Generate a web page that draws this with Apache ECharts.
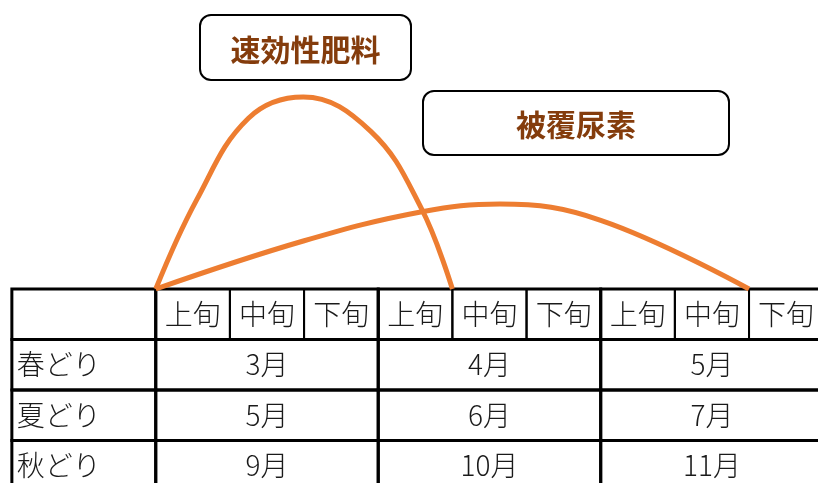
<!DOCTYPE html>
<html><head><meta charset="utf-8">
<script src="https://cdn.jsdelivr.net/npm/echarts@6/dist/echarts.min.js"></script>
<style>html,body{margin:0;padding:0;background:#fff}#c{width:818px;height:483px}</style>
</head><body><div id="c"></div>
<script>
// ---- data ----
const decades = ['上旬','中旬','下旬','上旬','中旬','下旬','上旬','中旬','下旬'];
const seasons = ['春どり','夏どり','秋どり'];
const monthsBySeason = [
  ['3月','4月','5月'],
  ['5月','6月','7月'],
  ['9月','10月','11月']
];
// release curves: [decade position, relative amount]
const fastRelease = [[0,0],[0.55,1.76],[1.25,3.38],[1.99,3.8],[2.9,3.12],[3.58,1.6],[4.0,0]];
const slowRelease = [[0,0],[1.99,0.95],[3.59,1.53],[4.64,1.68],[6.0,1.36],[8.0,0]];
const seriesNames = ['速効性肥料','被覆尿素'];

// ---- table cells built from arrays ----
const LABEL_START = -1.94;
const cells = [];
decades.forEach((d,i)=>cells.push([i, i+1, 0, -1, d, 'c', 2]));
for (let j=0;j<3;j++) cells.push([3*j, 3*j+3, 0, -1, '', 'c', 3]);
cells.push([LABEL_START, 0, 0, -1, '', 'l', 3]);
seasons.forEach((s,r)=>{
  cells.push([LABEL_START, 0, -1-r, -2-r, s, 'l', 3]);
  monthsBySeason[r].forEach((m,j)=>cells.push([3*j, 3*j+3, -1-r, -2-r, m, 'c', 3]));
});

const chart = echarts.init(document.getElementById('c'));
const FONT = '"Noto Sans CJK JP","Noto Sans CJK SC",sans-serif';
chart.setOption({
  animation:false,
  grid:{left:0,right:0,top:0,bottom:0},
  xAxis:{type:'value',min:-2.1,max:8.93,show:false},
  yAxis:{type:'value',min:-3.84,max:5.72,show:false},
  graphic:[
    {type:'group',left:199,top:14,children:[
      {type:'rect',shape:{x:0,y:0,width:211,height:65,r:11},style:{fill:'#fff',stroke:'#000',lineWidth:2}},
      {type:'text',style:{text:seriesNames[0],x:105.5,y:35,align:'center',verticalAlign:'middle',fill:'#843C0C',font:'bold 30px '+FONT}}
    ]},
    {type:'group',left:422,top:90,children:[
      {type:'rect',shape:{x:0,y:0,width:306,height:64,r:11},style:{fill:'#fff',stroke:'#000',lineWidth:2}},
      {type:'text',style:{text:seriesNames[1],x:153,y:34,align:'center',verticalAlign:'middle',fill:'#843C0C',font:'bold 30px '+FONT}}
    ]}
  ],
  series:[
    {type:'custom',data:cells,z:1,clip:false,
     renderItem:(params,api)=>{
       const c = cells[params.dataIndex];
       const p0 = api.coord([c[0],c[2]]), p1 = api.coord([c[1],c[3]]);
       const children=[{type:'rect',shape:{x:p0[0],y:p0[1],width:p1[0]-p0[0],height:p1[1]-p0[1]},
         style:{fill:'none',stroke:'#000',lineWidth:c[6]}}];
       if (c[4]) children.push({type:'text',style:{text:c[4],
         x: c[5]==='l' ? p0[0]+5 : (p0[0]+p1[0])/2, y:(p0[1]+p1[1])/2,
         align: c[5]==='l'?'left':'center', verticalAlign:'middle', fill:'#1a1a1a', font:'300 28px '+FONT}});
       return {type:'group',children};
     }},
    {type:'line',name:seriesNames[0],data:fastRelease,smooth:0.4,showSymbol:false,z:5,clip:false,
     lineStyle:{color:'#ED7D31',width:5}},
    {type:'line',name:seriesNames[1],data:slowRelease,smooth:0.4,showSymbol:false,z:5,clip:false,
     lineStyle:{color:'#ED7D31',width:5}}
  ]
});
</script></body></html>
